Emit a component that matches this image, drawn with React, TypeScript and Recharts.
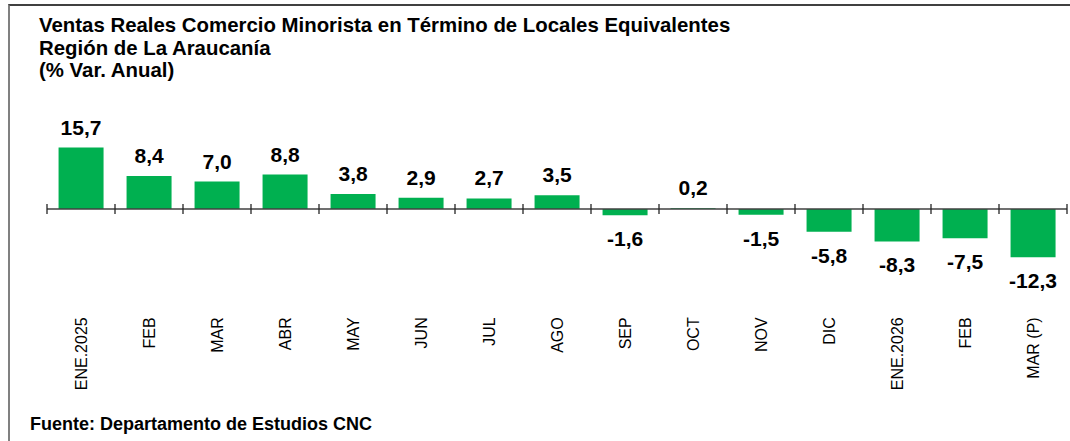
import React from 'react';
import { BarChart, Bar, XAxis, YAxis, ReferenceLine, LabelList } from 'recharts';

const categories = ['ENE.2025', 'FEB', 'MAR', 'ABR', 'MAY', 'JUN', 'JUL', 'AGO', 'SEP', 'OCT', 'NOV', 'DIC', 'ENE.2026', 'FEB', 'MAR (P)'];
const values = [15.7, 8.4, 7.0, 8.8, 3.8, 2.9, 2.7, 3.5, -1.6, 0.2, -1.5, -5.8, -8.3, -7.5, -12.3];
const titleLines = ['Ventas Reales Comercio Minorista en Término de Locales Equivalentes', 'Región de La Araucanía', '(% Var. Anual)'];
const sourceText = 'Fuente: Departamento de Estudios CNC';

const data = categories.map((c, i) => ({ name: c, value: values[i] }));

const FONT = '"Liberation Sans", Arial, sans-serif';
const GREEN = '#00B050';

const fmt = (v: number) => v.toFixed(1).replace('.', ',');

const CatTick = (props: any) => {
  const { x, y, payload } = props;
  return (
    <text
      transform={`translate(${x},${y + 30}) rotate(-90)`}
      textAnchor="end"
      dy="0.35em"
      fontSize={16}
      fontFamily={FONT}
      fill="#000"
    >
      {payload.value}
    </text>
  );
};

const ValueLabel = (props: any) => {
  const { x, y, width, height, value } = props;
  const top = Math.min(y, y + height);
  const bottom = Math.max(y, y + height);
  const cx = x + width / 2;
  const ty = value >= 0 ? top - 13 : bottom + 31;
  return (
    <text x={cx} y={ty} textAnchor="middle" fontSize={21} fontWeight="bold" fontFamily={FONT} fill="#000">
      {fmt(value)}
    </text>
  );
};

const AxisShape = (props: any) => {
  const { x1, y1, x2 } = props;
  const n = categories.length;
  const step = (x2 - x1) / n;
  const ticks = [];
  for (let i = 0; i <= n; i++) {
    const tx = x1 + i * step;
    ticks.push(<line key={i} x1={tx} x2={tx} y1={y1 - 5} y2={y1 + 5} stroke="#262626" strokeWidth={1.3} />);
  }
  return (
    <g>
      <line x1={x1} x2={x2} y1={y1} y2={y1} stroke="#404040" strokeWidth={1.5} />
      {ticks}
    </g>
  );
};

export default function App() {
  return (
    <div style={{ position: 'fixed', left: 0, top: 0, width: 1070, height: 441, background: '#fff', fontFamily: FONT }}>
      <div style={{ position: 'absolute', left: 8, top: 4, width: 1062, height: 437, borderTop: '2px solid #404040', borderLeft: '2px solid #808080', boxSizing: 'border-box' }} />
      <svg width={1070} height={441} style={{ position: 'absolute', left: 0, top: 0 }}>
        {titleLines.map((t, i) => (
          <text key={i} x={39} y={32 + i * 22.5} fontSize={20.4} fontWeight="bold" fontFamily={FONT} fill="#000">
            {t}
          </text>
        ))}
        <text x={30} y={430} fontSize={18} fontWeight="bold" fontFamily={FONT} fill="#000">
          {sourceText}
        </text>
      </svg>
      <div style={{ position: 'absolute', left: 0, top: 0 }}>
        <BarChart
          width={1070}
          height={441}
          data={data}
          margin={{ top: 130.7, right: 3, left: 47, bottom: 93.7 }}
          barCategoryGap="17%"
        >
          <XAxis
            dataKey="name"
            axisLine={false}
            tickLine={false}
            tickSize={0}
            tickMargin={0}
            height={60}
            interval={0}
            tick={<CatTick />}
          />
          <YAxis hide domain={[-20, 20]} type="number" />
          <Bar dataKey="value" fill={GREEN} isAnimationActive={false}>
            <LabelList dataKey="value" content={<ValueLabel />} />
          </Bar>
          <ReferenceLine y={0} shape={<AxisShape />} ifOverflow="visible" />
        </BarChart>
      </div>
    </div>
  );
}
